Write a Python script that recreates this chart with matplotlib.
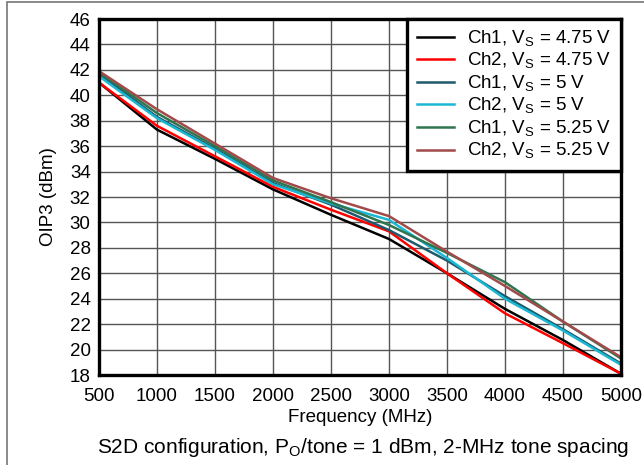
import matplotlib
matplotlib.use("Agg")
import matplotlib.pyplot as plt
from matplotlib.patches import Rectangle

plt.rcParams['font.family'] = ['Liberation Sans', 'DejaVu Sans']
plt.rcParams['mathtext.fontset'] = 'custom'
plt.rcParams['mathtext.rm'] = 'Liberation Sans'

freq = [500, 1000, 1500, 2000, 2500, 3000, 3500, 4000, 4500, 5000]
ch1_475 = [41.0, 37.3, 35.0, 32.6, 30.6, 28.7, 26.0, 23.2, 20.75, 18.1]
ch2_475 = [41.0, 37.6, 35.2, 32.8, 31.0, 29.3, 26.0, 22.85, 20.5, 18.1]
ch1_500 = [41.7, 38.3, 35.8, 33.1, 31.4, 29.4, 27.0, 24.2, 21.6, 18.9]
ch2_500 = [41.5, 38.2, 35.7, 33.0, 31.5, 30.2, 27.2, 24.0, 21.5, 18.8]
ch1_525 = [41.8, 38.6, 36.0, 33.3, 31.6, 29.8, 27.6, 25.3, 22.2, 19.3]
ch2_525 = [41.9, 38.9, 36.2, 33.5, 31.9, 30.5, 27.7, 25.0, 22.2, 19.4]

series = [
    (ch1_475, "Ch1, V$_\\mathregular{S}$ = 4.75 V", "#000000"),
    (ch2_475, "Ch2, V$_\\mathregular{S}$ = 4.75 V", "#ff0000"),
    (ch1_500, "Ch1, V$_\\mathregular{S}$ = 5 V", "#1e5a6c"),
    (ch2_500, "Ch2, V$_\\mathregular{S}$ = 5 V", "#1ab8d2"),
    (ch1_525, "Ch1, V$_\\mathregular{S}$ = 5.25 V", "#2e7550"),
    (ch2_525, "Ch2, V$_\\mathregular{S}$ = 5.25 V", "#a04a4a"),
]

fig = plt.figure(figsize=(6.44, 4.65), dpi=100)
ax = fig.add_axes([0.1537, 0.1935, 0.8106, 0.7656])

for vals, lab, col in series:
    ax.plot(freq, vals, color=col, lw=1.8, label=lab, solid_joinstyle='miter')

ax.set_xlim(500, 5000)
ax.set_ylim(18, 46)
ax.set_xticks(range(500, 5001, 500))
ax.set_yticks(range(18, 47, 2))
ax.grid(True, color='#555555', lw=1.0)
ax.set_axisbelow(True)
ax.tick_params(length=0, labelsize=13.5)
ax.tick_params(axis='x', pad=9)
ax.tick_params(axis='y', pad=6)
for s in ax.spines.values():
    s.set_linewidth(2.4)
    s.set_color('black')

ax.set_xlabel("Frequency (MHz)", fontsize=13.5, labelpad=3)
ax.set_ylabel("OIP3 (dBm)", fontsize=13.5, labelpad=9)

leg = ax.legend(loc='upper right', fontsize=13.5, frameon=True, fancybox=False,
                borderaxespad=0, handlelength=2.0, handletextpad=0.7,
                labelspacing=0.12, borderpad=0.5)
leg.get_frame().set_edgecolor('black')
leg.get_frame().set_linewidth(2.4)
leg.get_frame().set_alpha(1)

fig.text(0.563, 0.037, "S2D configuration, P$_\\mathregular{O}$/tone = 1 dBm, 2-MHz tone spacing",
         ha='center', va='center', fontsize=15)

fig.patches.append(Rectangle((7/644, -0.1), 1.2, 1 - 2/465 + 0.1, transform=fig.transFigure,
                             fill=False, edgecolor='#777777', lw=1.2))

fig.savefig("out.png", dpi=100)
